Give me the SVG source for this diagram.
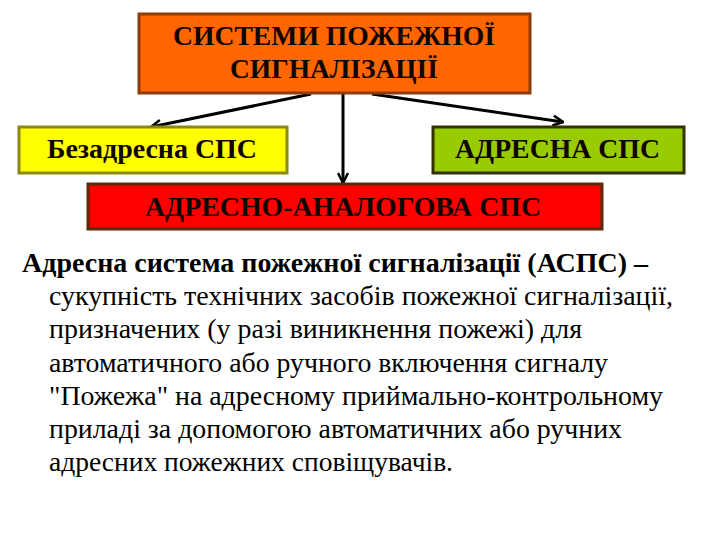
<svg xmlns="http://www.w3.org/2000/svg" width="720" height="540" viewBox="0 0 720 540">
<style>
.bt{font-family:'Liberation Serif','Times New Roman',serif;font-weight:bold;fill:#110500;}
.tx{font-family:'Liberation Serif','Times New Roman',serif;font-size:27px;fill:#000;}
.box{stroke-width:3;}
.con{stroke:#000;stroke-width:3;fill:none;}
</style>
<defs>
<marker id="ah" viewBox="0 0 12 12" refX="11" refY="6" markerWidth="12" markerHeight="12" markerUnits="userSpaceOnUse" orient="auto">
<path d="M1,1 L11,6 L1,11" fill="none" stroke="#000" stroke-width="2.5"/>
</marker>
</defs>
<rect width="720" height="540" fill="#fff"/>
<g id="connectors">
<line class="con" x1="311" y1="94" x2="151" y2="127" marker-end="url(#ah)"/>
<line class="con" x1="343" y1="93" x2="343" y2="183" stroke-width="2.5" marker-end="url(#ah)"/>
<line class="con" x1="372" y1="94" x2="563" y2="122" marker-end="url(#ah)"/>
</g>
<g id="top">
<rect class="box" x="139" y="14" width="391" height="79" fill="#FF6600" stroke="#8E3D0A"/>
<text class="bt" font-size="28" x="334" y="45" text-anchor="middle" textLength="322" lengthAdjust="spacingAndGlyphs">СИСТЕМИ ПОЖЕЖНОЇ</text>
<text class="bt" font-size="28" x="334" y="78" text-anchor="middle" textLength="208" lengthAdjust="spacingAndGlyphs">СИГНАЛІЗАЦІЇ</text>
</g>
<g id="nonaddr">
<rect class="box" x="19" y="127" width="268" height="46" fill="#FFFF00" stroke="#8A8A14"/>
<text class="bt" font-size="27" x="152" y="158" text-anchor="middle" textLength="210" lengthAdjust="spacingAndGlyphs">Безадресна СПС</text>
</g>
<g id="addr">
<rect class="box" x="433" y="127" width="251" height="46" fill="#99CC00" stroke="#333300"/>
<text class="bt" font-size="27" x="557.5" y="158" text-anchor="middle" textLength="205" lengthAdjust="spacingAndGlyphs">АДРЕСНА СПС</text>
</g>
<g id="analog">
<rect class="box" x="88" y="184" width="514" height="45" fill="#FF0000" stroke="#5A2A0A"/>
<text class="bt" font-size="27" x="343" y="216" text-anchor="middle" textLength="396" lengthAdjust="spacingAndGlyphs">АДРЕСНО-АНАЛОГОВА СПС</text>
</g>
<g id="body">
<text class="tx" x="22" y="272" font-weight="bold" textLength="626" lengthAdjust="spacingAndGlyphs">Адресна система пожежної сигналізації (АСПС) –</text>
<text class="tx" x="49" y="305" textLength="624" lengthAdjust="spacingAndGlyphs">сукупність технічних засобів пожежної сигналізації,</text>
<text class="tx" x="49" y="338" textLength="533" lengthAdjust="spacingAndGlyphs">призначених (у разі виникнення пожежі) для</text>
<text class="tx" x="49" y="372" textLength="559" lengthAdjust="spacingAndGlyphs">автоматичного або ручного включення сигналу</text>
<text class="tx" x="49" y="405" textLength="614" lengthAdjust="spacingAndGlyphs">"Пожежа" на адресному приймально-контрольному</text>
<text class="tx" x="49" y="438" textLength="573" lengthAdjust="spacingAndGlyphs">приладі за допомогою автоматичних або ручних</text>
<text class="tx" x="49" y="471" textLength="404" lengthAdjust="spacingAndGlyphs">адресних пожежних сповіщувачів.</text>
</g>
</svg>
